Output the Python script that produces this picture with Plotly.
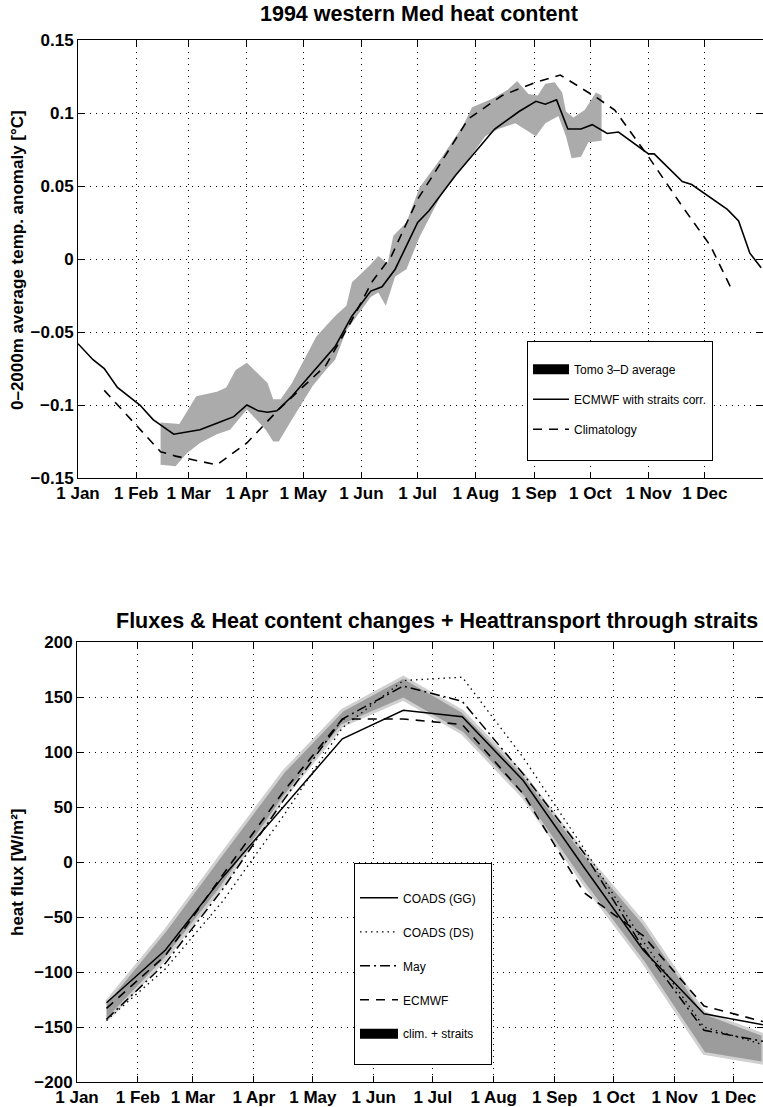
import plotly.graph_objects as go

# ---------------- data: top panel (1994 western Med heat content) ----------------
month_tick_days = [0, 31, 59, 90, 120, 151, 181, 212, 243, 273, 304, 334]
month_tick_text = ["1 Jan", "1 Feb", "1 Mar", "1 Apr", "1 May", "1 Jun",
                   "1 Jul", "1 Aug", "1 Sep", "1 Oct", "1 Nov", "1 Dec"]

top_ytick_vals = [-0.15, -0.1, -0.05, 0, 0.05, 0.1, 0.15]
top_ytick_text = ["\u22120.15", "\u22120.1", "\u22120.05", "0", "0.05", "0.1", "0.15"]

ecmwf_day = [0, 8, 14, 21, 33, 40, 51, 65, 75, 83, 90, 96, 101, 106, 114, 125, 137, 146,
             156, 162, 169, 181, 187, 201, 214, 222, 235, 244, 249, 255, 261, 268, 274,
             282, 288, 304, 307, 322, 327, 337, 346, 352, 358, 364]
ecmwf_anom = [-0.058, -0.069, -0.075, -0.088, -0.100, -0.110, -0.120, -0.117, -0.112, -0.108,
              -0.100, -0.104, -0.105, -0.104, -0.094, -0.078, -0.060, -0.039, -0.022, -0.019,
              -0.007, 0.025, 0.033, 0.057, 0.077, 0.089, 0.101, 0.108, 0.106, 0.109, 0.089,
              0.089, 0.092, 0.086, 0.087, 0.072, 0.072, 0.053, 0.051, 0.042, 0.034, 0.026,
              0.004, -0.006]

clim_day = [14, 44, 52, 74, 90, 107, 132, 145, 157, 167, 181, 189, 208, 226, 244, 257,
            277, 286, 304, 322, 337, 348]
clim_anom = [-0.090, -0.132, -0.135, -0.141, -0.126, -0.103, -0.073, -0.044, -0.015, 0.002,
             0.041, 0.057, 0.096, 0.112, 0.121, 0.126, 0.110, 0.102, 0.070, 0.036, 0.009,
             -0.020]

tomo_up_day = [44, 54, 63, 74, 79, 84, 90, 97, 101, 104, 108, 114, 127, 137, 143, 146, 155,
               160, 165, 168, 175, 182, 194, 205, 210, 221, 229, 234, 240, 245, 249, 254,
               258, 260, 264, 270, 276, 279]
tomo_up = [-0.112, -0.113, -0.094, -0.091, -0.088, -0.076, -0.071, -0.080, -0.085, -0.096,
           -0.096, -0.085, -0.053, -0.039, -0.032, -0.016, -0.005, 0.002, -0.003, 0.016,
           0.025, 0.049, 0.070, 0.091, 0.104, 0.110, 0.116, 0.122, 0.113, 0.112, 0.120,
           0.121, 0.114, 0.101, 0.097, 0.102, 0.114, 0.112]
tomo_lo_day = [44, 52, 58, 65, 74, 81, 90, 95, 100, 104, 107, 114, 125, 132, 137, 143, 156,
               160, 164, 169, 175, 182, 194, 208, 217, 224, 233, 238, 244, 249, 256, 260,
               263, 268, 272, 279]
tomo_lo = [-0.141, -0.142, -0.133, -0.126, -0.120, -0.117, -0.103, -0.110, -0.117, -0.125,
           -0.125, -0.110, -0.087, -0.076, -0.069, -0.049, -0.026, -0.023, -0.032, -0.012,
           -0.007, 0.015, 0.045, 0.068, 0.084, 0.089, 0.093, 0.089, 0.084, 0.093, 0.098,
           0.084, 0.069, 0.070, 0.080, 0.081]

# ---------------- data: bottom panel (fluxes) ----------------
flux_day = [15, 45, 74, 105, 135, 166, 196, 227, 258, 288, 319, 349]
coads_gg = [-128, -80, -14, 50, 112, 138, 132, 74, -5, -80, -138, -148]
coads_ds = [-144, -97, -36, 42, 122, 165, 168, 95, 12, -72, -150, -166]
may_flux = [-143, -92, -25, 56, 130, 160, 146, 80, 8, -78, -153, -163]
ecmwf_flux = [-133, -85, -12, 64, 130, 130, 125, 62, -28, -67, -131, -145]
clim_up = [-127, -62, 8, 82, 138, 168, 137, 80, 8, -55, -137, -157]
clim_lo = [-144, -88, -22, 58, 124, 148, 117, 59, -20, -91, -174, -183]

bot_ytick_vals = [-200, -150, -100, -50, 0, 50, 100, 150, 200]
bot_ytick_text = ["\u2212200", "\u2212150", "\u2212100", "\u221250", "0", "50", "100", "150", "200"]

# ---------------- figure ----------------
W, H = 763, 1107
FONT = "Liberation Sans, Arial, Helvetica, sans-serif"

def px_x(p):
    return p / W

def px_y(p):
    return (H - p) / H

fig = go.Figure()

# top panel
fig.add_trace(go.Scatter(
    x=tomo_up_day + tomo_lo_day[::-1], y=tomo_up + tomo_lo[::-1],
    fill="toself", fillcolor="#ababab", mode="lines", line=dict(width=0, color="#ababab"),
    showlegend=False, hoverinfo="skip", xaxis="x", yaxis="y"))
fig.add_trace(go.Scatter(
    x=[None], y=[None], mode="lines", line=dict(color="black", width=15),
    name="Tomo 3\u2013D average", legend="legend", legendgroup="t1", xaxis="x", yaxis="y"))
fig.add_trace(go.Scatter(
    x=ecmwf_day, y=ecmwf_anom, mode="lines", line=dict(color="black", width=1.6),
    name="ECMWF with straits corr.", legend="legend", legendgroup="t2", xaxis="x", yaxis="y"))
fig.add_trace(go.Scatter(
    x=clim_day, y=clim_anom, mode="lines",
    line=dict(color="black", width=1.6, dash="9px,7px"),
    name="Climatology<br>&nbsp;", legend="legend", legendgroup="t3", xaxis="x", yaxis="y"))

# bottom panel
fig.add_trace(go.Scatter(
    x=flux_day + flux_day[::-1], y=clim_up + clim_lo[::-1],
    fill="toself", fillcolor="#9c9c9c", mode="lines", line=dict(width=3, color="#d0d0d0"),
    showlegend=False, hoverinfo="skip", xaxis="x2", yaxis="y2"))
fig.add_trace(go.Scatter(
    x=flux_day, y=coads_gg, mode="lines", line=dict(color="black", width=1.5),
    name="COADS (GG)&nbsp;&nbsp;&nbsp;", legend="legend2", legendgroup="b1",
    xaxis="x2", yaxis="y2"))
fig.add_trace(go.Scatter(
    x=flux_day, y=coads_ds, mode="lines", line=dict(color="black", width=1.3, dash="1.5px,4px"),
    name="COADS (DS)", legend="legend2", legendgroup="b2", xaxis="x2", yaxis="y2"))
fig.add_trace(go.Scatter(
    x=flux_day, y=may_flux, mode="lines",
    line=dict(color="black", width=1.5, dash="10px,4px,2px,4px"),
    name="May", legend="legend2", legendgroup="b3", xaxis="x2", yaxis="y2"))
fig.add_trace(go.Scatter(
    x=flux_day, y=ecmwf_flux, mode="lines", line=dict(color="black", width=1.6, dash="9px,7px"),
    name="ECMWF", legend="legend2", legendgroup="b4", xaxis="x2", yaxis="y2"))
fig.add_trace(go.Scatter(
    x=[None], y=[None], mode="lines", line=dict(color="black", width=15),
    name="clim. + straits<br>&nbsp;", legend="legend2", legendgroup="b5", xaxis="x2", yaxis="y2"))

tickfont = dict(family=FONT, size=17, color="black", weight="bold")
common_axis = dict(showline=True, linecolor="black", linewidth=1, mirror="ticks",
                   ticks="inside", ticklen=6, tickcolor="black", tickwidth=1,
                   showgrid=True, gridcolor="black", gridwidth=1, griddash="1px,5px",
                   zeroline=False, tickfont=tickfont, automargin=False)

fig.update_layout(
    width=W, height=H, autosize=False,
    margin=dict(l=0, r=0, t=0, b=0, autoexpand=False),
    paper_bgcolor="white", plot_bgcolor="white",
    xaxis=dict(domain=[px_x(78), 1.0], range=[0, 365], anchor="y",
               tickvals=month_tick_days, ticktext=month_tick_text, **common_axis),
    yaxis=dict(domain=[px_y(478), px_y(40)], range=[-0.15, 0.15], anchor="x",
               tickvals=top_ytick_vals, ticktext=top_ytick_text, **common_axis),
    xaxis2=dict(domain=[px_x(77), 1.0], range=[0, 349], anchor="y2",
                tickvals=month_tick_days, ticktext=month_tick_text, **common_axis),
    yaxis2=dict(domain=[px_y(1082), px_y(642)], range=[-200, 200], anchor="x2",
                tickvals=bot_ytick_vals, ticktext=bot_ytick_text, **common_axis),
    legend=dict(x=px_x(527), y=px_y(341), xanchor="left", yanchor="top",
                bgcolor="white", bordercolor="black", borderwidth=1,
                font=dict(family=FONT, size=12, color="black"),
                title=dict(text="&nbsp;", font=dict(family=FONT, size=10)),
                itemwidth=36, tracegroupgap=11, valign="top"),
    legend2=dict(x=px_x(354), y=px_y(863), xanchor="left", yanchor="top",
                 bgcolor="white", bordercolor="black", borderwidth=1,
                 font=dict(family=FONT, size=12, color="black"),
                 title=dict(text="&nbsp;", font=dict(family=FONT, size=15)),
                 itemwidth=38, tracegroupgap=15, valign="top"),
    showlegend=True,
)

title_font = dict(family=FONT, size=21.5, color="black", weight="bold")
label_font = dict(family=FONT, size=17, color="black", weight="bold")
fig.add_annotation(text="1994 western Med heat content", xref="paper", yref="paper",
                   x=px_x(419), y=px_y(14), showarrow=False, font=title_font,
                   xanchor="center", yanchor="middle")
fig.add_annotation(text="Fluxes &amp; Heat content changes + Heattransport through straits",
                   xref="paper", yref="paper", x=px_x(437), y=px_y(621), showarrow=False,
                   font=title_font, xanchor="center", yanchor="middle")
fig.add_annotation(text="0\u20132000m average temp. anomaly [\u00b0C]", xref="paper", yref="paper",
                   x=px_x(17), y=px_y(260), showarrow=False, font=label_font, textangle=-90,
                   xanchor="center", yanchor="middle")
fig.add_annotation(text="heat flux [W/m\u00b2]", xref="paper", yref="paper",
                   x=px_x(17), y=px_y(872), showarrow=False, font=label_font, textangle=-90,
                   xanchor="center", yanchor="middle")

fig.write_html("out.html")
